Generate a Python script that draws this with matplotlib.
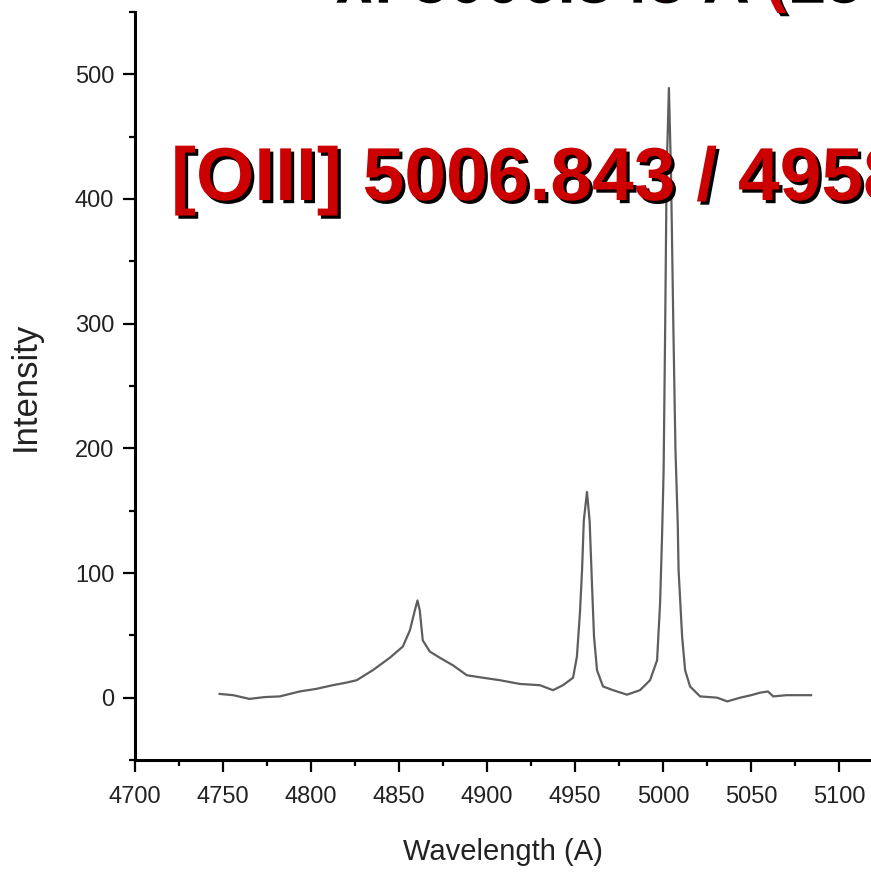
import numpy as np
import matplotlib
matplotlib.use("Agg")
import matplotlib.pyplot as plt
import matplotlib.patheffects as pe
from matplotlib.ticker import MultipleLocator
from matplotlib import font_manager

# spectrum
wavelength = [4748.3, 4756.0, 4765.3, 4774.0, 4782.4, 4793.8, 4803.0, 4812.5, 4820.0,
              4826.1, 4835.2, 4844.9, 4852.3, 4856.3, 4859.1, 4860.6, 4861.9, 4863.6,
              4867.6, 4873.3, 4880.7, 4888.6, 4897.7, 4907.4, 4918.8, 4930.1, 4937.5,
              4943.2, 4948.9, 4951.1, 4952.8, 4954.0, 4955.0, 4956.8, 4958.3, 4959.7,
              4960.8, 4962.5, 4965.9, 4971.6, 4979.5, 4986.9, 4992.6, 4996.6, 4998.3,
              4999.4, 5000.3, 5001.2, 5002.0, 5003.3, 5004.5, 5005.8, 5007.0, 5008.3,
              5008.8, 5010.8, 5012.5, 5015.3, 5021.0, 5030.7, 5036.4, 5043.8, 5050.0,
              5055.1, 5059.5, 5062.5, 5070.0, 5077.8, 5084.0]
intensity = [3.0, 2.0, -1.0, 0.5, 1.0, 5.0, 7.0, 10.0, 12.0,
             14.0, 22.0, 32.0, 41.0, 54.0, 70.0, 78.0, 70.0, 46.0,
             37.0, 32.0, 26.0, 18.0, 16.0, 14.0, 11.0, 10.0, 6.0,
             10.0, 16.0, 33.0, 68.0, 102.0, 142.0, 165.0, 142.0, 89.0,
             49.0, 22.0, 9.0, 6.0, 2.4, 6.0, 14.0, 30.0, 76.0,
             129.0, 182.0, 300.0, 420.0, 489.0, 420.0, 300.0, 200.0, 140.0,
             102.0, 49.0, 22.0, 9.0, 1.0, 0.0, -3.0, 0.0, 2.0,
             4.0, 5.0, 1.0, 2.0, 2.0, 2.0]

label_main = "[OIII] 5006.843 / 4958.911"
label_top = "λ: 5006.843 Å (25"

names = {f.name for f in font_manager.fontManager.ttflist}
tick_font = "Liberation Sans Narrow" if "Liberation Sans Narrow" in names else "Liberation Sans"

fig = plt.figure(figsize=(8.71, 8.72), dpi=100)
ax = fig.add_axes([134.5 / 871, 112 / 872, 1 - 134.5 / 871, 748 / 872])

ax.plot(wavelength, intensity, color="#5e5e5e", lw=1.6, zorder=3)

ax.set_xlim(4700, 5118)
ax.set_ylim(-50, 550)
ax.xaxis.set_major_locator(MultipleLocator(50))
ax.xaxis.set_minor_locator(MultipleLocator(25))
ax.yaxis.set_major_locator(MultipleLocator(100))
ax.yaxis.set_minor_locator(MultipleLocator(50))

for s in ["top", "right"]:
    ax.spines[s].set_visible(False)
for s in ["left", "bottom"]:
    ax.spines[s].set_linewidth(2.2)

ax.tick_params(which="major", length=8.5, width=1.6, direction="out", pad=6,
               labelsize=17, labelcolor="#222222")
ax.tick_params(axis="x", which="major", pad=10)
ax.tick_params(which="minor", length=4.5, width=1.6, direction="out")
for lab in ax.get_xticklabels() + ax.get_yticklabels():
    lab.set_fontfamily(tick_font)

ax.set_xlabel("Wavelength (A)", fontsize=21, family="Liberation Sans", color="#222222", labelpad=22)
ax.set_ylabel("Intensity", fontsize=25, family="Liberation Sans", color="#222222", labelpad=24)

shadow = [pe.withSimplePatchShadow(offset=(2.3, -2.3), shadow_rgbFace="black", alpha=1.0)]
fig.text(171 / 871, 1 - 200 / 872, label_main, fontsize=54, fontweight="bold",
         family="Liberation Sans", color="#cc0000", va="baseline", ha="left",
         path_effects=shadow, zorder=1)
fig.text(333 / 871, 1 + 0.5 / 872, label_top, fontsize=47, fontweight="bold",
         family=["Liberation Sans", "DejaVu Sans"], color="#cc0000", va="baseline", ha="left",
         path_effects=shadow, zorder=1)

fig.savefig("out.png", dpi=100)
